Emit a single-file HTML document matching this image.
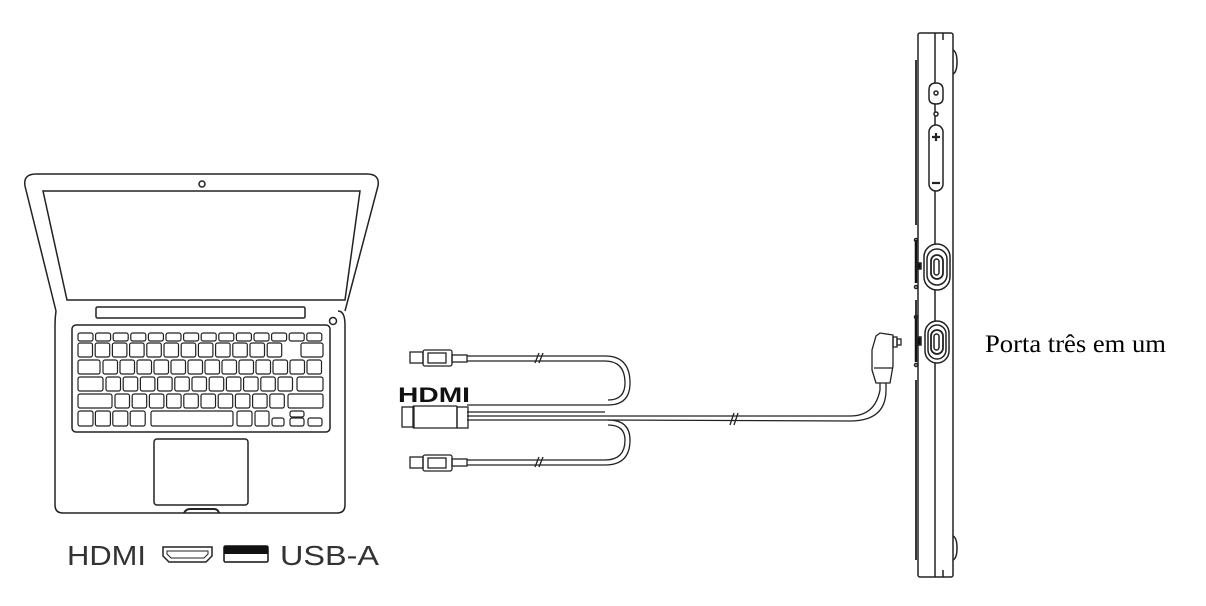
<!DOCTYPE html>
<html><head><meta charset="utf-8"><style>
html,body{margin:0;padding:0;background:#fff;width:1206px;height:606px;overflow:hidden}
svg{position:absolute;left:0;top:0}
</style></head><body>
<svg id="s" width="1206" height="606" viewBox="0 0 1206 606" xmlns="http://www.w3.org/2000/svg" fill="none" stroke="#222" stroke-width="1.5">
<!-- Laptop lid -->
<path d="M56 311 L25 186 Q23 174 36 174 L367 174 Q380 174 378 186 L345 311"/>
<path d="M43 191 L360 191 L345 300 L67 300 Z"/>
<circle cx="202" cy="184" r="3"/>
<rect x="96" y="307" width="209" height="11" rx="1.5"/>
<!-- Base -->
<path d="M56 311 Q55 318 55 325 L55 505 Q55 513 63 513 L337 513 Q345 513 345 505 L345 325 Q345 311 338 311"/>
<path d="M184 513 Q186 509 190 509 L214 509 Q218 509 219 513" stroke-width="2"/>
<circle cx="333" cy="321" r="3.5"/>
<rect x="72" y="325" width="258" height="107" rx="4"/>
<rect x="154" y="439" width="94" height="66" rx="3"/>
<g id="keys" stroke-width="1.2"></g>
<!-- Bottom legend icons -->
<path d="M163 547 L212 547 L212 556 L206 562 L169 562 L163 556 Z"/>
<path d="M167 551 L208 551 L208 554 L204 558 L171 558 L167 554 Z" stroke-width="1"/>
<rect x="224" y="546" width="44" height="16" rx="1.5" fill="#fff" stroke="#111"/>
<rect x="224" y="546" width="44" height="8" fill="#111" stroke="none"/>
<text x="67" y="565" font-family="Liberation Sans, sans-serif" font-size="28" fill="#333" stroke="none" textLength="79" lengthAdjust="spacingAndGlyphs">HDMI</text>
<text x="280" y="565" font-family="Liberation Sans, sans-serif" font-size="28" fill="#333" stroke="none" textLength="99" lengthAdjust="spacingAndGlyphs">USB-A</text>

<!-- Cable -->
<g stroke-width="1.3">
<rect x="410" y="352" width="13" height="11"/>
<rect x="423" y="350" width="29" height="16" rx="2"/>
<rect x="428" y="353" width="18" height="10"/>
<rect x="452" y="355" width="15" height="7"/>
<path d="M467 356 L605 356 Q630 356 630 383 Q630 405 608 405 L467 405"/>
<path d="M467 361 L605 361 Q625 361 625 383 Q625 400 608 400"/>
<rect x="410" y="457" width="13" height="11"/>
<rect x="423" y="455" width="29" height="16" rx="2"/>
<rect x="428" y="458" width="18" height="10"/>
<rect x="452" y="459" width="15" height="7"/>
<path d="M467 460 L605 460 Q625 460 625 440 Q625 425 608 425"/>
<path d="M467 465 L605 465 Q630 465 630 440 Q630 420 608 420 L467 420"/>
<rect x="402" y="407" width="12" height="20"/>
<rect x="413" y="406" width="44" height="22" rx="1"/>
<rect x="457" y="407" width="11" height="21"/>
<path d="M467 412 L605 412"/>
<path d="M467 416 L850 416 Q875 416 880 390 L880 383"/>
<path d="M608 420 L850 421 Q886 421 886 390 L886 383"/>
<path d="M535 363 L539 353 M539 363 L543 353"/>
<path d="M535 467 L539 457 M539 467 L543 457"/>
<path d="M730 425 L734 413 M734 425 L738 413"/>
<path d="M876 383 L890 383 L893 366 L893 335 L880 333 L876 336 L872 350 L872 370 Z"/>
<path d="M874 368 L892 368"/>
<rect x="893" y="337" width="4" height="10"/>
<rect x="897" y="339" width="4" height="6"/>
</g>
<text x="398" y="402" font-family="Liberation Sans, sans-serif" font-weight="bold" font-size="21" fill="#111" stroke="none" textLength="72" lengthAdjust="spacingAndGlyphs">HDMI</text>

<!-- Monitor side -->
<rect x="918" y="33" width="35" height="544" rx="2"/>
<path d="M935 33 L935 577"/>
<path d="M943 33 L943 40 M943 570 L943 577"/>
<path d="M953 50 Q957 52 957 62 Q957 72 953 74 M953 536 Q957 538 957 548 Q957 558 953 560"/>
<path d="M916 60 L916 225 M916 300 L916 320 M916 380 L916 560" stroke-width="1.8"/>
<path d="M916 240 L916 283 M916 317 L916 362" stroke="#111" stroke-width="2.5"/>
<circle cx="916" cy="240" r="1.5"/><circle cx="916" cy="287" r="1.5"/>
<circle cx="916" cy="317" r="1.5"/><circle cx="916" cy="365" r="1.5"/>
<rect x="917" y="263" width="4" height="6" fill="#111"/>
<rect x="917" y="337" width="4" height="8" fill="#111"/>
<path d="M929 90 Q929 83 936 83 Q943 83 943 90 L943 98 Q943 104 936 104 Q929 104 929 98 Z" fill="#fff"/>
<circle cx="936" cy="93" r="2"/>
<circle cx="936" cy="114" r="2" fill="#fff"/>
<rect x="929" y="125" width="14" height="66" rx="7" fill="#fff"/>
<path d="M932 137 L940 137 M936 133 L936 141" stroke-width="2.2"/>
<path d="M932 183 L940 183" stroke-width="2.2"/>
<rect x="924" y="244" width="26" height="46" rx="13" fill="#fff"/>
<rect x="927" y="249" width="20" height="36" rx="10"/>
<rect x="931" y="255" width="12" height="24" rx="6" stroke-width="1.8"/>
<rect x="934" y="259" width="5" height="16" rx="2.5"/>
<rect x="925" y="321" width="24" height="42" rx="12" fill="#fff"/>
<rect x="928" y="325" width="18" height="34" rx="9"/>
<rect x="931" y="330" width="12" height="24" rx="6" stroke-width="1.8"/>
<rect x="934" y="334" width="5" height="16" rx="2.5"/>
<text x="985" y="352" font-family="Liberation Serif, serif" font-size="25" fill="#000" stroke="none" textLength="181" lengthAdjust="spacingAndGlyphs">Porta três em um</text>
</svg>
<script>
var g=document.getElementById('keys'),NS='http://www.w3.org/2000/svg';
function k(x,y,w,h){var r=document.createElementNS(NS,'rect');r.setAttribute('x',x);r.setAttribute('y',y);r.setAttribute('width',w);r.setAttribute('height',h);r.setAttribute('rx',2);g.appendChild(r);}
var i;
for(i=0;i<14;i++)k(78+i*17.6,333,15,8);
for(i=0;i<12;i++)k(78+i*17.2,343,14.5,14);k(301,343,22,14);
k(78,360,22,14);for(i=0;i<13;i++)k(103+i*17,360,14.5,14);
k(78,377,25,14);for(i=0;i<11;i++)k(106+i*17.2,377,14.5,14);k(297,377,26,14);
k(78,394,34,14);for(i=0;i<10;i++)k(115+i*17.2,394,14.5,14);k(288,394,35,14);
for(i=0;i<4;i++)k(78+i*17.4,411,15,15);k(151,411,82,15);k(237,411,15,15);k(255,411,14,15);
k(272,418,12,8);k(290,411,14,6);k(290,418,14,8);k(308,418,14,8);
</script>
</body></html>
